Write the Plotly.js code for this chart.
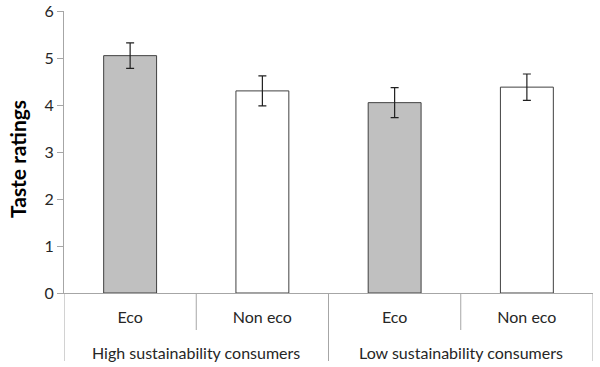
<!DOCTYPE html>
<html>
<head>
<meta charset="utf-8">
<script src="https://cdn.plot.ly/plotly-3.0.1.min.js"></script>
<style>html,body{margin:0;padding:0;background:#fff;}#chart{width:600px;height:367px;}</style>
</head>
<body>
<div id="chart"></div>
<script>
const groups = ["High sustainability consumers", "High sustainability consumers", "Low sustainability consumers", "Low sustainability consumers"];
const labels = ["Eco", "Non eco", "Eco", "Non eco"];
const ratings = [5.05, 4.30, 4.05, 4.38];
const errors = [0.27, 0.32, 0.32, 0.28];
const fills = ["#c0c0c0", "#ffffff", "#c0c0c0", "#ffffff"];
const yTicks = [0, 1, 2, 3, 4, 5, 6];

const idx = labels.map((_, i) => i);
const axisColor = "#a6a6a6";

const trace = {
  type: "bar",
  x: idx,
  y: ratings,
  marker: {color: fills, line: {color: "#404040", width: 1}},
  width: 0.4,
  error_y: {type: "data", array: errors, visible: true, color: "#202020", thickness: 1.2, width: 4},
  hoverinfo: "none"
};

// divider lines between categories (short) and between groups (long)
const shapes = [];
const shortLen = -37 / 282, longLen = -68 / 282;
function divider(xv, len) {
  shapes.push({type: "line", xref: "x", yref: "paper", x0: xv, x1: xv, y0: 0, y1: len,
    line: {color: axisColor, width: 1}});
}
divider(-0.5, longLen);
for (let i = 0; i < labels.length - 1; i++) {
  divider(i + 0.5, groups[i] === groups[i + 1] ? shortLen : longLen);
}
divider(labels.length - 0.5, longLen);

// group labels
const annotations = [];
const uniq = [...new Set(groups)];
uniq.forEach(g => {
  const members = idx.filter(i => groups[i] === g);
  const mid = members.reduce((a, b) => a + b, 0) / members.length;
  annotations.push({xref: "x", yref: "paper", x: mid, y: -59 / 282, text: g, showarrow: false,
    xanchor: "center", yanchor: "middle", font: {size: 16, color: "#262626"}});
});
annotations.push({xref: "paper", yref: "paper", x: -47 / 529, y: 0.475, text: "<b>Taste ratings</b>",
  textangle: -90, showarrow: false, xanchor: "center", yanchor: "middle", font: {size: 21, color: "#000"}});

const layout = {
  width: 600, height: 367,
  margin: {l: 64, r: 7, t: 11, b: 74},
  paper_bgcolor: "#fff", plot_bgcolor: "#fff",
  font: {family: "Lato, 'Open Sans', sans-serif", size: 16, color: "#262626"},
  showlegend: false,
  shapes: shapes,
  annotations: annotations,
  xaxis: {
    range: [-0.5, labels.length - 0.5],
    tickmode: "array", tickvals: idx, ticktext: labels,
    showline: true, linecolor: axisColor, linewidth: 1,
    ticks: "", ticklabelstandoff: 10,
    tickfont: {size: 16, color: "#262626"},
    showgrid: false, zeroline: false, fixedrange: true
  },
  yaxis: {
    range: [0, 6], tickmode: "array", tickvals: yTicks,
    showline: true, linecolor: axisColor, linewidth: 1,
    ticks: "outside", ticklen: 6, tickcolor: axisColor,
    showgrid: false, zeroline: false,
    tickfont: {size: 16, color: "#262626"}
  }
};

Plotly.newPlot("chart", [trace], layout, {staticPlot: true});
</script>
</body>
</html>
